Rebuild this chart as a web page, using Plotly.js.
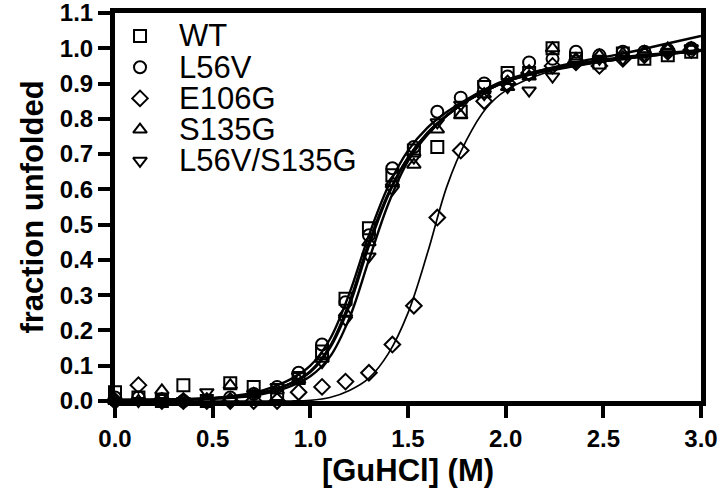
<!DOCTYPE html>
<html>
<head>
<meta charset="utf-8">
<script src="https://cdn.plot.ly/plotly-3.0.1.min.js"></script>
<style>
  html, body { margin: 0; padding: 0; background: #fff; }
  #chart { width: 720px; height: 494px; }
</style>
</head>
<body>
<div id="chart"></div>
<script>
// GuHCl concentrations (M) of the measured points
const conc = [0.00, 0.12, 0.24, 0.35, 0.47, 0.59, 0.71, 0.83, 0.94, 1.06, 1.18, 1.30, 1.42,
  1.53, 1.65, 1.77, 1.89, 2.01, 2.12, 2.24, 2.36, 2.48, 2.60, 2.71, 2.83, 2.95];

const names = ['WT', 'L56V', 'E106G', 'S135G', 'L56V/S135G'];
const symbols = ['square-open', 'circle-open', 'diamond-open', 'triangle-up-open', 'triangle-down-open'];

// fraction unfolded
const wt = [0.025, 0.01, 0.00, 0.045, 0.00, 0.05, 0.04, 0.02, 0.065, 0.14, 0.29, 0.49, 0.64,
  0.71, 0.72, 0.82, 0.89, 0.93, 0.93, 1.00, 0.97, 0.96, 0.985, 0.97, 0.98, 0.99];
const l56v = [0.01, 0.01, 0.005, 0.00, 0.00, 0.01, 0.02, 0.04, 0.08, 0.16, 0.28, 0.47, 0.66,
  0.72, 0.82, 0.86, 0.90, 0.92, 0.96, 0.97, 0.99, 0.98, 0.99, 0.99, 0.995, 1.00];
const e106g = [0.00, 0.045, 0.00, 0.00, 0.00, 0.00, 0.00, 0.00, 0.025, 0.04, 0.055, 0.08, 0.16,
  0.27, 0.52, 0.71, 0.85, 0.90, 0.93, 0.95, 0.96, 0.95, 0.97, 0.98, 0.99, 0.995];
const s135g = [0.00, 0.00, 0.03, 0.00, 0.00, 0.045, 0.02, 0.03, 0.06, 0.12, 0.25, 0.45, 0.62,
  0.67, 0.77, 0.81, 0.87, 0.89, 0.92, 1.00, 0.97, 0.98, 0.985, 0.99, 1.00, 1.00];
const l56vS135g = [0.00, 0.00, 0.00, 0.00, 0.025, 0.00, 0.02, 0.04, 0.07, 0.11, 0.23, 0.41, 0.60,
  0.69, 0.79, 0.84, 0.87, 0.89, 0.88, 0.92, 0.96, 0.97, 0.97, 0.98, 0.99, 1.00];

// fitted curves, sampled off the figure
const fitX = [0, 0.25, 0.5, 0.7, 0.8, 0.9, 1.0, 1.1, 1.2, 1.3, 1.4, 1.5, 1.6, 1.7, 1.8, 1.9,
  2.0, 2.2, 2.4, 2.6, 2.8, 3.0];
const fitWt = [0.004, 0.005, 0.008, 0.018, 0.03, 0.05, 0.085, 0.155, 0.28, 0.45, 0.59, 0.69,
  0.76, 0.81, 0.85, 0.88, 0.905, 0.935, 0.955, 0.97, 0.982, 0.993];
const fitL56v = [0.0, 0.002, 0.008, 0.022, 0.038, 0.062, 0.10, 0.175, 0.305, 0.47, 0.61, 0.71,
  0.775, 0.82, 0.855, 0.885, 0.91, 0.94, 0.965, 0.985, 1.01, 1.035];
const fitE106g = [0, 0, 0, 0, 0, 0, 0.002, 0.01, 0.03, 0.065, 0.135, 0.25, 0.42, 0.61, 0.74,
  0.83, 0.88, 0.93, 0.953, 0.97, 0.982, 0.992];
const fitS135g = [0.003, 0.004, 0.008, 0.018, 0.03, 0.05, 0.082, 0.15, 0.27, 0.44, 0.585, 0.69,
  0.76, 0.81, 0.85, 0.88, 0.905, 0.935, 0.955, 0.97, 0.982, 0.993];
const fitL56vS135g = [0.002, 0.003, 0.006, 0.014, 0.025, 0.042, 0.07, 0.125, 0.235, 0.40, 0.56,
  0.68, 0.755, 0.81, 0.85, 0.88, 0.905, 0.94, 0.96, 0.975, 0.985, 0.995];

const xTicks = ['0.0', '0.5', '1.0', '1.5', '2.0', '2.5', '3.0'];
const yTicks = ['0.0', '0.1', '0.2', '0.3', '0.4', '0.5', '0.6', '0.7', '0.8', '0.9', '1.0', '1.1'];

const series = [wt, l56v, e106g, s135g, l56vS135g];
const fits = [fitWt, fitL56v, fitE106g, fitS135g, fitL56vS135g];
const fitWidths = [2.4, 2.4, 1.7, 2.4, 2.4];

const boldFont = "'Liberation Sans', Arial, sans-serif";
const plainFont = "'Liberation Sans', Arial, sans-serif";

const traces = [];
fits.forEach((f, i) => {
  traces.push({
    type: 'scatter', mode: 'lines', x: fitX, y: f,
    line: { color: '#000', width: fitWidths[i], shape: 'spline', smoothing: 1 },
    hoverinfo: 'skip', cliponaxis: false,
  });
});
series.forEach((s, i) => {
  traces.push({
    type: 'scatter', mode: 'markers', name: names[i], x: conc, y: s,
    marker: { symbol: symbols[i], size: 12, color: '#000', line: { color: '#000', width: 2 } },
    cliponaxis: false,
  });
});
// legend symbols on a hidden overlay axis, one row per series
traces.push({
  type: 'scatter', mode: 'markers', xaxis: 'x2', yaxis: 'y2',
  x: names.map(() => 0), y: names.map((n, i) => i),
  marker: { symbol: symbols, size: 12, color: '#000', line: { color: '#000', width: 2 } },
  hoverinfo: 'skip', cliponaxis: false,
});

const axisBase = {
  showgrid: false, zeroline: false,
  showline: true, linewidth: 5, linecolor: '#000', mirror: true,
  ticks: 'outside', ticklen: 12, tickwidth: 4, tickcolor: '#000',
  ticklabeloverflow: 'allow',
  tickfont: { family: boldFont, size: 24, weight: 'bold', color: '#000' },
};

const layout = {
  width: 720, height: 494,
  margin: { l: 115, r: 19, t: 13, b: 93 },
  paper_bgcolor: '#fff', plot_bgcolor: '#fff',
  showlegend: false,
  font: { family: boldFont, color: '#000' },
  xaxis: Object.assign({}, axisBase, {
    range: [0, 3],
    tickmode: 'array', tickvals: xTicks.map(Number), ticktext: xTicks,
    title: { text: '[GuHCl] (M)', font: { family: boldFont, size: 31, weight: 'bold' }, standoff: 10 },
  }),
  yaxis: Object.assign({}, axisBase, {
    range: [0, 1.1],
    tickmode: 'array', tickvals: yTicks.map(Number), ticktext: yTicks,
    title: { text: 'fraction unfolded', font: { family: boldFont, size: 31, weight: 'bold' }, standoff: 8 },
  }),
  xaxis2: { overlaying: 'x', range: [-0.0427, 0.9573], visible: false },
  yaxis2: { overlaying: 'y', range: [11.699, -0.737], visible: false },
  annotations: names.map((n, i) => ({
    xref: 'x2', yref: 'y2', x: 0.063, y: i, xanchor: 'left', yanchor: 'middle',
    text: n, showarrow: false, height: 29,
    font: { family: plainFont, size: 31, color: '#000' },
  })),
};

Plotly.newPlot('chart', traces, layout, { displayModeBar: false, staticPlot: true });
</script>
</body>
</html>
